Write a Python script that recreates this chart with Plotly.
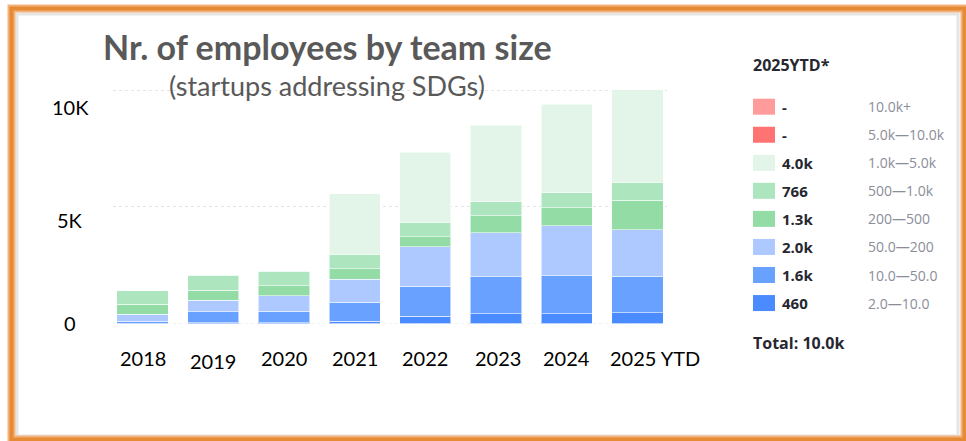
import plotly.graph_objects as go

# Employee counts per team-size tier, per year (stacked bottom to top)
years = ["2018", "2019", "2020", "2021", "2022", "2023", "2024", "2025 YTD"]
tier_names = ["2.0—10.0", "10.0—50.0", "50.0—200", "200—500",
              "500—1.0k", "1.0k—5.0k", "5.0k—10.0k", "10.0k+"]
emp_2_10 = [20, 30, 30, 95, 320, 420, 420, 460]
emp_10_50 = [80, 470, 485, 810, 1280, 1580, 1620, 1570]
emp_50_200 = [300, 500, 670, 995, 1680, 1880, 2140, 1990]
emp_200_500 = [425, 425, 440, 440, 425, 740, 785, 1260]
emp_500_1k = [570, 640, 620, 630, 640, 585, 625, 766]
emp_1k_5k = [0, 0, 0, 2595, 2990, 3275, 3790, 3960]
emp_5k_10k = [None] * 8
emp_10k_plus = [None] * 8
y_tick_values = [10000, 5000, 0]
y_tick_labels = ["10K", "5K", "0"]

tiers = [emp_2_10, emp_10_50, emp_50_200, emp_200_500,
         emp_500_1k, emp_1k_5k, emp_5k_10k, emp_10k_plus]
colors = ["#4a8bff", "#68a1ff", "#adc9ff", "#93dca6",
          "#ade5be", "#e3f5e8", "#ff7373", "#ff9b9b"]

W, H = 966, 441


def px(x):
    return x / W


def py(y):
    return 1 - y / H


fig = go.Figure()
for name, vals, col in zip(tier_names, tiers, colors):
    fig.add_trace(go.Bar(
        x=years, y=vals, name=name,
        marker=dict(color=col, line=dict(color="rgba(255,255,255,0.55)", width=1)),
        showlegend=False, hoverinfo="skip",
    ))

y_top_px, y_base_px = 90, 323.5
y_max = 10500
y_dom_top = y_base_px - (y_base_px - y_top_px) * y_max / 10000

shapes = []
annotations = []

# Dotted baseline at zero, matching the grid
shapes.append(dict(type="line", xref="x domain", yref="y", x0=0, x1=1, y0=0, y1=0,
                   line=dict(color="#e4e4e4", width=1, dash="dot"), layer="below"))

# Title block
annotations.append(dict(
    text="<b>Nr. of employees by team size</b>", x=px(327), y=py(47),
    xref="paper", yref="paper", showarrow=False, xanchor="center", yanchor="middle",
    font=dict(family="Lato", size=34, color="#595959")))
annotations.append(dict(
    text="(startups addressing SDGs)", x=px(327), y=py(85),
    xref="paper", yref="paper", showarrow=False, xanchor="center", yanchor="middle",
    font=dict(family="Lato", size=27, color="#595959")))

# Y axis labels
y_label_pos = [107, 220, 322.5]
for lab, yy in zip(y_tick_labels, y_label_pos):
    annotations.append(dict(
        text=lab, x=px(70), y=py(yy), xref="paper", yref="paper",
        showarrow=False, xanchor="center", yanchor="middle",
        font=dict(family="Lato", size=20, color="#000000")))

# X axis labels
x_shift = [0, 0, 0, 0, 0, 2, 0, 18]
x_label_y = [358, 361, 358, 358, 358, 358, 358, 358]
for i, (yr, sh, yy) in enumerate(zip(years, x_shift, x_label_y)):
    annotations.append(dict(
        text=yr, x=i, y=py(yy), xref="x", yref="paper", xshift=sh,
        showarrow=False, xanchor="center", yanchor="middle",
        font=dict(family="Lato", size=20, color="#000000")))


# Side panel summarising the latest year
def fmt(v):
    if v is None:
        return "-"
    if v < 1000:
        return str(int(v))
    return f"{v / 1000:.1f}k"


panel_font = "Open Sans"
annotations.append(dict(
    text="<b>2025YTD*</b>", x=px(751), y=py(65), xref="paper", yref="paper",
    showarrow=False, xanchor="left", yanchor="middle",
    font=dict(family=panel_font, size=16, color="#262730")))

row_y0 = 106.7
row_step = 28.05
latest = [vals[-1] for vals in reversed(tiers)]
for i, (name, col, v) in enumerate(zip(reversed(tier_names), reversed(colors), latest)):
    cy = row_y0 + i * row_step
    shapes.append(dict(type="rect", xref="paper", yref="paper",
                       x0=px(753), x1=px(775), y0=py(cy + 8), y1=py(cy - 8),
                       fillcolor=col, line=dict(width=0)))
    annotations.append(dict(
        text=f"<b>{fmt(v)}</b>", x=px(780), y=py(cy), xref="paper", yref="paper",
        showarrow=False, xanchor="left", yanchor="middle",
        font=dict(family=panel_font, size=15, color="#262730")))
    annotations.append(dict(
        text=name, x=px(866), y=py(cy), xref="paper", yref="paper",
        showarrow=False, xanchor="left", yanchor="middle",
        font=dict(family=panel_font, size=14, color="#8b8d99")))

total_latest = sum(v[-1] for v in tiers if v[-1] is not None)
annotations.append(dict(
    text=f"<b>Total: {fmt(total_latest)}</b>", x=px(751), y=py(342.5),
    xref="paper", yref="paper", showarrow=False, xanchor="left", yanchor="middle",
    font=dict(family=panel_font, size=16, color="#262730")))

# Orange picture frame with a soft inner shadow
shapes.append(dict(type="rect", xref="paper", yref="paper",
                   x0=px(17), x1=px(958), y0=py(436), y1=py(14),
                   line=dict(color="rgba(0,0,0,0.10)", width=3), layer="above"))
shapes.append(dict(type="rect", xref="paper", yref="paper",
                   x0=px(11.5), x1=px(964.5), y0=py(439.5), y1=py(8.5),
                   line=dict(color="#f3b27c", width=8), layer="above"))
shapes.append(dict(type="rect", xref="paper", yref="paper",
                   x0=px(11.5), x1=px(964.5), y0=py(439.5), y1=py(8.5),
                   line=dict(color="#e68a35", width=4), layer="above"))

fig.update_layout(
    width=W, height=H,
    margin=dict(l=0, r=0, t=0, b=0),
    paper_bgcolor="white", plot_bgcolor="white",
    barmode="stack", bargap=0.277,
    xaxis=dict(domain=[px(113), px(667)], range=[-0.418, 7.418],
               type="category", showticklabels=False, showgrid=False,
               zeroline=False, showline=False, ticks=""),
    yaxis=dict(domain=[py(y_base_px), py(y_dom_top)], range=[0, y_max],
               tickvals=y_tick_values, showticklabels=False,
               showgrid=True, gridcolor="#e4e4e4", griddash="dot", gridwidth=1,
               zeroline=False, showline=False, ticks=""),
    shapes=shapes, annotations=annotations,
)

fig.write_html("out.html")
